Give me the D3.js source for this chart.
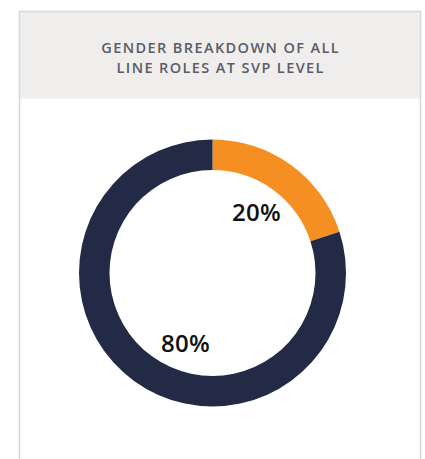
<!DOCTYPE html>
<html>
<head>
<meta charset="utf-8">
<script src="https://cdn.jsdelivr.net/npm/d3@7"></script>
<style>
  html, body { margin: 0; padding: 0; background: #fff; }
  svg { display: block; }
</style>
</head>
<body>
<div id="chart"></div>
<script>
// Datos del gráfico
const titleLines = ["GENDER BREAKDOWN OF ALL", "LINE ROLES AT SVP LEVEL"];
const categories = ["Women", "Men"];
const values = [20, 80];
const colors = ["#f68f21", "#222a46"];

const width = 425, height = 459;

const svg = d3.select('#chart').append('svg')
    .attr('width', width)
    .attr('height', height);

// Panel
const panel = { x: 19.5, y: 11.5, w: 401, h: 460, header: 87 };

svg.append('rect')
    .attr('x', panel.x).attr('y', panel.y)
    .attr('width', panel.w).attr('height', panel.header)
    .attr('fill', '#efeeec');

svg.append('path')
    .attr('d', `M${panel.x},${height + 5}V${panel.y}H${panel.x + panel.w}V${height + 5}`)
    .attr('fill', 'none')
    .attr('stroke', '#d6d6d6')
    .attr('stroke-width', 1.5);

// Título (letter-spacing añade espacio tras la última letra; se compensa en x)
const ls = 1.4;
svg.append('g')
    .selectAll('text')
    .data(titleLines)
    .join('text')
    .attr('x', panel.x + panel.w / 2 + ls / 2)
    .attr('y', (d, i) => 53 + i * 19.5)
    .attr('text-anchor', 'middle')
    .attr('font-family', '"Open Sans", sans-serif')
    .attr('font-weight', 600)
    .attr('font-size', 14.5)
    .attr('letter-spacing', ls)
    .attr('fill', '#5b5c68')
    .text(d => d);

// Donut
const cx = 212.5, cy = 273, outerR = 133.5, innerR = 103;

const pie = d3.pie().sort(null).value(d => d)(values);
const arc = d3.arc().innerRadius(innerR).outerRadius(outerR);

const g = svg.append('g').attr('transform', `translate(${cx},${cy})`);

g.selectAll('path')
    .data(pie)
    .join('path')
    .attr('d', arc)
    .attr('fill', (d, i) => colors[i]);

// Etiquetas
const labelPos = [[44, -52], [-27, 79]];

g.selectAll('text.lbl')
    .data(pie)
    .join('text')
    .attr('class', 'lbl')
    .attr('x', (d, i) => labelPos[i][0])
    .attr('y', (d, i) => labelPos[i][1])
    .attr('text-anchor', 'middle')
    .attr('font-family', '"Open Sans", sans-serif')
    .attr('font-weight', 600)
    .attr('font-size', 24)
    .attr('letter-spacing', 0.3)
    .attr('fill', '#111')
    .text(d => d.data + '%');
</script>
</body>
</html>
